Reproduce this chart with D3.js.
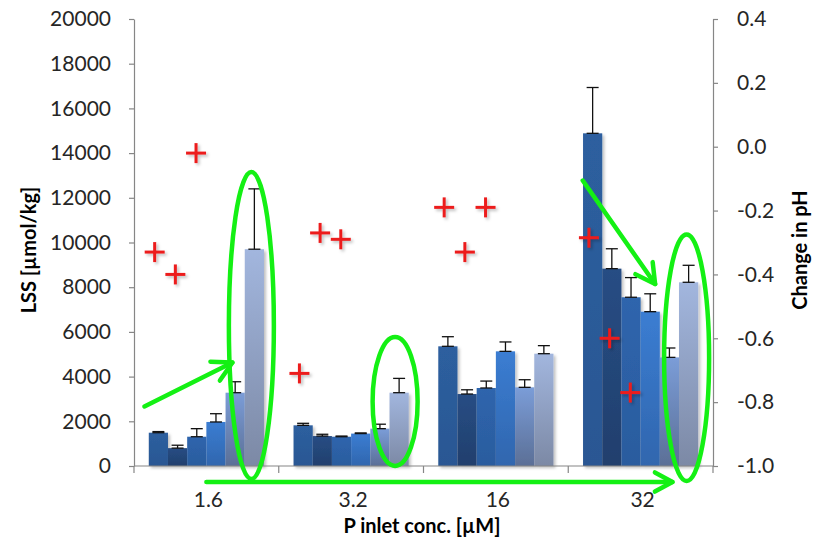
<!DOCTYPE html>
<html><head><meta charset="utf-8">
<script src="https://cdn.jsdelivr.net/npm/d3@7"></script>
<style>
html,body{margin:0;padding:0;background:#fff;}
svg{display:block;font-family:Lato,"Open Sans",sans-serif;}
</style></head>
<body><svg id="c" width="813" height="547"></svg>
<script>
// ---------- data ----------
const categories = ["1.6", "3.2", "16", "32"];
const seriesNames = ["S1", "S2", "S3", "S4", "S5", "S6"];
// LSS [µmol/kg] per series, one value per category
const s1 = [1490, 1820, 5355, 14885];
const s2 = [800, 1340, 3220, 8830];
const s3 = [1310, 1310, 3490, 7550];
const s4 = [1970, 1450, 5130, 6905];
const s5 = [3280, 1670, 3520, 4860];
const s6 = [9700, 3280, 5025, 8220];
// upper error bar lengths
const e1 = [50, 90, 430, 2050];
const e2 = [130, 80, 190, 890];
const e3 = [360, 30, 310, 880];
const e4 = [370, 30, 420, 800];
const e5 = [490, 200, 340, 420];
const e6 = [2700, 640, 360, 760];
// change in pH (right axis), three points per category
const ph1 = [-0.33, -0.71, -0.19, -0.285];
const ph2 = [-0.40, -0.27, -0.33, -0.60];
const ph3 = [-0.02, -0.29, -0.19, -0.77];
const phSlot = [1, 2, 3];            // position inside category, in sevenths
const leftTicks = [0, 2000, 4000, 6000, 8000, 10000, 12000, 14000, 16000, 18000, 20000];
const rightTicks = [0.4, 0.2, 0.0, -0.2, -0.4, -0.6, -0.8, -1.0];

// ---------- styles ----------
const topCol = ["#2d5f9f", "#274d84", "#2e65ad", "#3b7dd2", "#7b9dd8", "#a2b6de"];
const botCol = ["#2a5793", "#213f6d", "#2b5c9e", "#3066ae", "#5b6f96", "#7c89a5"];
const green = "#14f014";

const W = 813, H = 547;
const m = {l: 134, r: 713, t: 19, b: 466};
const svg = d3.select("#c");
svg.append("rect").attr("width", W).attr("height", H).attr("fill", "#fff");

const defs = svg.append("defs");
topCol.forEach((c, i) => {
  const g = defs.append("linearGradient").attr("id", "g" + i)
    .attr("x1", 0).attr("y1", 0).attr("x2", 0).attr("y2", 1);
  g.append("stop").attr("offset", "0%").attr("stop-color", c);
  g.append("stop").attr("offset", "100%").attr("stop-color", botCol[i]);
});
const f = defs.append("filter").attr("id", "sh").attr("x", "-20%").attr("y", "-20%").attr("width", "160%").attr("height", "160%");
f.append("feDropShadow").attr("dx", 2).attr("dy", 2).attr("stdDeviation", 1.8).attr("flood-color", "#000").attr("flood-opacity", 0.25);

const seriesVals = [s1, s2, s3, s4, s5, s6];
const seriesErr = [e1, e2, e3, e4, e5, e6];
const phSeries = [ph1, ph2, ph3];

const x0 = d3.scaleBand().domain(categories).range([m.l, m.r]).paddingInner(0).paddingOuter(0);
const x1 = d3.scaleBand().domain(seriesNames).range([0, x0.bandwidth()]).paddingInner(0).paddingOuter(0.77);
const xl = d3.scaleLinear().domain([0, categories.length]).range([m.l, m.r]);
const y = d3.scaleLinear().domain([0, 20000]).range([m.b, m.t]);
const y2 = d3.scaleLinear().domain([-1.0, 0.4]).range([m.b, m.t]);

const textCol = "#262626", axisCol = "#868686";

// ---------- bars ----------
const bars = [];
categories.forEach((c, ci) => seriesNames.forEach((s, si) => {
  bars.push({c, s, si, v: seriesVals[si][ci], e: seriesErr[si][ci]});
}));
const bg = svg.append("g").attr("filter", "url(#sh)");
bg.selectAll("rect").data(bars).join("rect")
  .attr("x", d => x0(d.c) + x1(d.s))
  .attr("y", d => y(d.v))
  .attr("width", x1.bandwidth())
  .attr("height", d => y(0) - y(d.v))
  .attr("fill", d => "url(#g" + d.si + ")");

// error bars (upper only)
const eg = svg.append("g").attr("stroke", "#111").attr("stroke-width", 1.3).attr("fill", "none");
bars.forEach(d => {
  const cx = x0(d.c) + x1(d.s) + x1.bandwidth() / 2;
  eg.append("line").attr("x1", cx).attr("x2", cx).attr("y1", y(d.v)).attr("y2", y(d.v + d.e));
  eg.append("line").attr("x1", cx - 6).attr("x2", cx + 6).attr("y1", y(d.v + d.e)).attr("y2", y(d.v + d.e));
  eg.append("line").attr("x1", cx - 6).attr("x2", cx + 6).attr("y1", y(d.v)).attr("y2", y(d.v));
});

// ---------- axes ----------
const la = svg.append("g").attr("transform", `translate(${m.l},0)`)
  .call(d3.axisLeft(y).tickValues(leftTicks).tickSize(5).tickPadding(18).tickSizeOuter(0)
    .tickFormat(d3.format("d")));
const ra = svg.append("g").attr("transform", `translate(${m.r},0)`)
  .call(d3.axisRight(y2).tickValues(rightTicks).tickSize(5).tickPadding(19).tickSizeOuter(0)
    .tickFormat(d => (Math.abs(d) < 1e-9 ? 0 : d).toFixed(1)));
[la, ra].forEach(a => {
  a.select(".domain").attr("stroke", axisCol).attr("stroke-width", 1.2);
  a.selectAll(".tick line").attr("stroke", axisCol).attr("stroke-width", 1.2);
  a.selectAll(".tick text").attr("fill", textCol).style("font-size", "21px").style("font-family", "Lato");
});

// x axis
const xa = svg.append("g");
xa.append("line").attr("x1", m.l).attr("x2", m.r).attr("y1", m.b).attr("y2", m.b)
  .attr("stroke", axisCol).attr("stroke-width", 1.2);
xa.selectAll("line.t").data(d3.range(categories.length + 1)).join("line").attr("class", "t")
  .attr("x1", d => xl(d)).attr("x2", d => xl(d)).attr("y1", m.b).attr("y2", m.b + 7)
  .attr("stroke", axisCol).attr("stroke-width", 1.2);
xa.selectAll("text").data(categories).join("text")
  .attr("x", d => x0(d) + x0.bandwidth() / 2 + 2)
  .attr("y", 507).attr("text-anchor", "middle")
  .attr("fill", textCol).style("font-size", "21px").text(d => d);

// ---------- pH crosses ----------
const pts = [];
categories.forEach((c, ci) => phSeries.forEach((ps, k) => pts.push({xv: ci + phSlot[k] / 7, v: ps[ci]})));
const cg = svg.append("g").attr("filter", "url(#sh)").attr("stroke", "#ec1c1c").attr("stroke-width", 3);
pts.forEach(p => {
  const cx = xl(p.xv), cy = y2(p.v);
  cg.append("line").attr("x1", cx - 10).attr("x2", cx + 10).attr("y1", cy).attr("y2", cy);
  cg.append("line").attr("x1", cx).attr("x2", cx).attr("y1", cy - 10).attr("y2", cy + 10);
});

// ---------- titles ----------
svg.append("text").attr("transform", "translate(28,250) rotate(-90)")
  .attr("text-anchor", "middle").attr("dominant-baseline", "central")
  .attr("fill", "#000").style("font-size", "20px").style("font-weight", "bold").text("LSS [µmol/kg]");
svg.append("text").attr("transform", "translate(799,250) rotate(-90)")
  .attr("text-anchor", "middle").attr("dominant-baseline", "central")
  .attr("fill", "#000").style("font-size", "20px").style("font-weight", "bold").text("Change in pH");
svg.append("text").attr("x", 422).attr("y", 533).attr("text-anchor", "middle")
  .attr("fill", "#000").style("font-size", "20px").style("font-weight", "bold").text("P inlet conc. [µM]");

// ---------- annotations (positioned with the scales) ----------
const ann = svg.append("g").attr("stroke", green).attr("stroke-width", 4.5).attr("fill", "none")
  .attr("stroke-linecap", "round").attr("stroke-linejoin", "round");
const ellipses = [
  {cat: "1.6", s: "S6", dx: -3, top: 13150, bot: -580},
  {cat: "3.2", s: "S6", dx: -4, top: 5770, bot: 0},
  {cat: "32", s: "S6", dx: -2, top: 10360, bot: -670}
];
ellipses.forEach(e => {
  const cx = x0(e.cat) + x1(e.s) + x1.bandwidth() / 2 + e.dx;
  const t = y(e.top), b = y(e.bot);
  ann.append("ellipse").attr("cx", cx).attr("cy", (t + b) / 2).attr("rx", 22.5).attr("ry", (b - t) / 2);
});
function arrow(xa, ya, xb, yb, head) {
  const x1p = xl(xa), y1p = ya, x2p = xl(xb), y2p = yb;
  ann.append("line").attr("x1", x1p).attr("y1", y1p).attr("x2", x2p).attr("y2", y2p);
  const ang = Math.atan2(y2p - y1p, x2p - x1p);
  const p = [ang + Math.PI - 0.5, ang + Math.PI + 0.5].map(a => [x2p + head * Math.cos(a), y2p + head * Math.sin(a)]);
  ann.append("path").attr("d", `M${p[0][0]},${p[0][1]}L${x2p},${y2p}L${p[1][0]},${p[1][1]}`);
}
arrow(0.072, 406.5, 0.68, 362.5, 22);
arrow(3.1, 180.5, 3.6, 284, 22);
arrow(0.5, 482, 3.72, 482, 20);
</script></body></html>
